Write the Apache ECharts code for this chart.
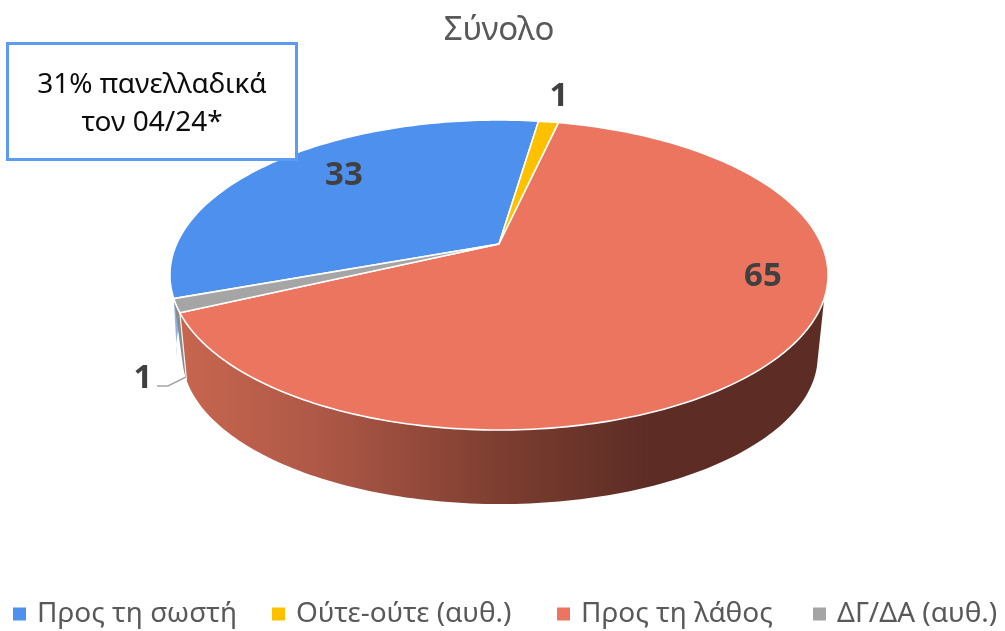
<!DOCTYPE html>
<html><head><meta charset="utf-8">
<style>html,body{margin:0;padding:0;background:#fff}#c{width:1005px;height:631px}</style>
<script src="https://cdn.jsdelivr.net/npm/echarts@6/dist/echarts.min.js"></script>
</head><body><div id="c"></div>
<script>
const categories = ['Προς τη σωστή','Ούτε-ούτε (αυθ.)','Προς τη λάθος','ΔΓ/ΔΑ (αυθ.)'];
const values = [32.9,1.2,64.5,1.4];
const titleText = 'Σύνολο';
const noteLines = ['31% πανελλαδικά','τον 04/24*'];

const colors = ['#4d90ee','#ffc000','#ec7560','#a5a5a5'];
const FONT = '"Noto Sans", sans-serif';
const START = -110;
const topRim = {cx:499, cy:244, a:322.4, b:148.8, k:0.2};
const lowRim = {cx:500, cy:314.6, a:305, b:136.4, k:0.28};
const labelPos = [[344,176],[559,97],[763,277],[143,379]];
const legendLeft = [8,267,552,808];
const total = values.reduce((s,v)=>s+v,0);

function project(r, deg, t){
  const th = deg*Math.PI/180, X = r*Math.sin(th), Y = -r*Math.cos(th), w = 1 - t.k*Y;
  return [t.cx + t.a*X/w, t.cy + t.b*Y/w];
}
function arc(from, to, t, dx, dy){
  const n = Math.max(2, Math.ceil(to-from)), pts = [];
  for(let i=0;i<=n;i++){
    const p = project(1, from+(to-from)*i/n, t);
    pts.push([p[0]+(dx||0), p[1]+(dy||0)]);
  }
  return pts;
}
function wallFill(i){
  if(i===2) return new echarts.graphic.LinearGradient(178,0,650,0,[
    {offset:0,color:'#c8664f'},{offset:0.3,color:'#ae5847'},{offset:0.68,color:'#7d3e30'},{offset:1,color:'#5c2c25'}],true);
  return ['#8db4ea','#a98000','#000','#8c8c8c'][i];
}
function renderSlice(i, api){
  const before = values.slice(0,i).reduce((s,v)=>s+v,0);
  const from = START + before/total*360;
  const to = from + api.value(0)/total*360;
  const children = [];
  const rimTop = arc(from,to,topRim);
  // the part of the side wall that can be seen begins at the silhouette on the right
  const wallFrom = i===2 ? Math.max(from,110) : from;
  const wallTop = arc(wallFrom,to,topRim);
  const shift = i===0 ? [-6,-9] : [0,0];
  const rimLow = arc(wallFrom,to,lowRim,shift[0],shift[1]);
  children.push({type:'polygon', z2:i===2?4:(i===3?3:1), shape:{points:wallTop.concat(rimLow.slice().reverse())},
    style:{fill:wallFill(i)}});
  if(i===2){
    children.push({type:'polyline', z2:5, shape:{points:[wallTop[wallTop.length-1], rimLow[rimLow.length-1]]},
      style:{stroke:'#f2f2f2', lineWidth:1.2, fill:null}});
  }
  children.push({type:'polygon', z2:10, shape:{points:[[topRim.cx,topRim.cy]].concat(rimTop)},
    style:{fill:colors[i], stroke:'#ffffff', lineWidth:1.6, lineJoin:'round'}});
  children.push({type:'text', z2:20, x:labelPos[i][0], y:labelPos[i][1],
    style:{text:String(Math.round(api.value(0))), fill:'#404040', font:'bold 33px '+FONT, align:'center', verticalAlign:'middle'}});
  return {type:'group', children};
}

const chart = echarts.init(document.getElementById('c'), null, {renderer:'canvas'});
chart.setOption({
  animation:false,
  backgroundColor:'#ffffff',
  title:{text:titleText, left:494, top:9, textAlign:'center',
    textStyle:{color:'#595959', fontFamily:FONT, fontSize:33, fontWeight:'normal'}},
  legend:categories.map((name,i)=>({data:[name], left:legendLeft[i], top:595, selectedMode:false, icon:'rect', itemWidth:13, itemHeight:13,
    textStyle:{color:'#595959', fontFamily:FONT, fontSize:28, padding:[0,0,0,6]}})),
  series:categories.map((name,i)=>({
    type:'custom', name, coordinateSystem:'none', silent:true,
    itemStyle:{color:colors[i]},
    data:[[values[i]]],
    renderItem:(p,api)=>renderSlice(i,api)
  })),
  graphic:[
    {type:'polyline', z:50, shape:{points:[[157,386],[168,386],[186,377]]}, style:{stroke:'#a6a6a6', lineWidth:1.5, fill:null}},
    {type:'rect', z:60, shape:{x:7.5,y:43.5,width:289,height:116}, style:{fill:'#ffffff', stroke:'#5b9bf0', lineWidth:3}},
    {type:'text', z:61, x:152, y:85, style:{text:noteLines[0], fill:'#0d0d0d', font:'28px '+FONT, align:'center', verticalAlign:'middle'}},
    {type:'text', z:61, x:152, y:123, style:{text:noteLines[1], fill:'#0d0d0d', font:'28px '+FONT, align:'center', verticalAlign:'middle'}}
  ]
});
</script></body></html>
